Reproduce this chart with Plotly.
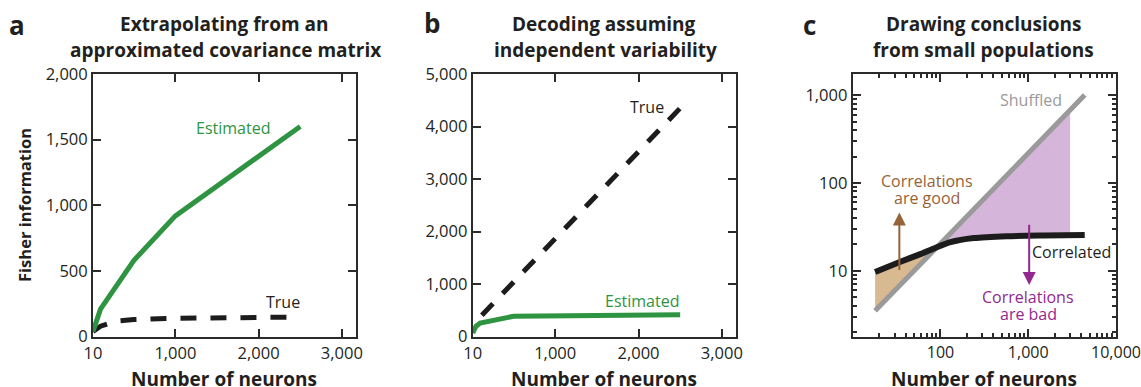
import numpy as np
import plotly.graph_objects as go

W, H = 1141, 387

# ---------------- data ----------------
# Panel a: Extrapolating from an approximated covariance matrix
a_est_n = [10, 100, 500, 1000, 2500]
a_est_fi = [40, 210, 580, 920, 1600]
a_true_n = [10, 100, 300, 500, 1000, 2500]
a_true_fi = [40, 80, 120, 130, 140, 150]

# Panel b: Decoding assuming independent variability
b_true_n = [120, 2500]
b_true_fi = [410, 4350]
b_est_n = [10, 50, 100, 500, 2500]
b_est_fi = [70, 200, 260, 390, 420]

# Panel c: Drawing conclusions from small populations (log-log)
c_shuf_n = [18, 4400]
c_shuf_fi = [3.5, 1000]
c_corr_n = [18, 35, 60, 88, 130, 240, 570, 1500, 4400]
c_corr_fi = [9.7, 12.7, 15.6, 18.3, 21.2, 23.6, 24.8, 25.2, 25.5]
c_fill_end = 3000

lin_tickvals = [10, 1000, 2000, 3000]
lin_ticktext = ["10", "1,000", "2,000", "3,000"]
c_xtickvals = [100, 1000, 10000]
c_xticktext = ["100", "1,000", "10,000"]
c_ytickvals = [10, 100, 1000]
c_yticktext = ["10", "100", "1,000"]

GREEN = "#2e9441"
BLACK = "#1c1c1c"
GRAY = "#9a9a9a"
TAN = "#d9b98f"
LILAC = "#d5b5d9"
BROWN = "#966339"
PURPLE = "#93278f"
AXC = "#2b2b2b"
FONT = "Open Sans"


def px(x):
    return x / W


def py(y):
    return 1 - y / H


fig = go.Figure()

# ---- panel c fills (built from the two series) ----
grid = np.logspace(np.log10(c_corr_n[0]), np.log10(c_fill_end), 400)
lg = np.log10(grid)
corr_i = 10 ** np.interp(lg, np.log10(c_corr_n), np.log10(c_corr_fi))
shuf_i = 10 ** np.interp(lg, np.log10(c_shuf_n), np.log10(c_shuf_fi))
good = corr_i >= shuf_i
gx = grid[good]
fig.add_trace(go.Scatter(
    x=np.concatenate([gx, gx[::-1]]),
    y=np.concatenate([corr_i[good], shuf_i[good][::-1]]),
    fill="toself", fillcolor=TAN, line=dict(width=0), mode="lines",
    xaxis="x3", yaxis="y3", hoverinfo="skip", showlegend=False))
bx = grid[~good]
fig.add_trace(go.Scatter(
    x=np.concatenate([bx, bx[::-1]]),
    y=np.concatenate([shuf_i[~good], corr_i[~good][::-1]]),
    fill="toself", fillcolor=LILAC, line=dict(width=0), mode="lines",
    xaxis="x3", yaxis="y3", hoverinfo="skip", showlegend=False))

# ---- lines ----
dash = "16px,14px"
fig.add_trace(go.Scatter(x=a_true_n, y=a_true_fi, mode="lines",
                         line=dict(color=BLACK, width=5, dash=dash),
                         xaxis="x", yaxis="y", showlegend=False))
fig.add_trace(go.Scatter(x=a_est_n, y=a_est_fi, mode="lines",
                         line=dict(color=GREEN, width=5),
                         xaxis="x", yaxis="y", showlegend=False))
fig.add_trace(go.Scatter(x=b_true_n, y=b_true_fi, mode="lines",
                         line=dict(color=BLACK, width=5, dash=dash),
                         xaxis="x2", yaxis="y2", showlegend=False))
fig.add_trace(go.Scatter(x=b_est_n, y=b_est_fi, mode="lines",
                         line=dict(color=GREEN, width=5),
                         xaxis="x2", yaxis="y2", showlegend=False))
fig.add_trace(go.Scatter(x=c_shuf_n, y=c_shuf_fi, mode="lines",
                         line=dict(color=GRAY, width=5),
                         xaxis="x3", yaxis="y3", showlegend=False))
fig.add_trace(go.Scatter(x=c_corr_n, y=c_corr_fi, mode="lines",
                         line=dict(color=BLACK, width=6, shape="spline", smoothing=0.6),
                         xaxis="x3", yaxis="y3", showlegend=False))

ax_common = dict(showline=True, linecolor=AXC, linewidth=2, mirror="ticks",
                 ticks="inside", ticklen=8, tickwidth=2, tickcolor=AXC,
                 showgrid=False, zeroline=False, automargin=False)
tf = dict(family=FONT, size=16.5, color="#231f20")
tf_small = dict(family=FONT, size=16, color="#231f20")

ydom = [py(336.7), py(74)]
minor_x = [m * 10 ** e for e in range(1, 4) for m in range(2, 10)]
minor_y = [m * 10 ** e for e in range(0, 4) for m in range(2, 10)]
minor_style = dict(ticks="inside", ticklen=4, tickwidth=1.5, tickcolor=AXC, showgrid=False)

fig.update_layout(
    width=W, height=H, margin=dict(l=0, r=0, t=0, b=0, autoexpand=False),
    paper_bgcolor="white", plot_bgcolor="white",
    xaxis=dict(domain=[px(93), px(356)], range=[10, 3170], anchor="y",
               tickvals=lin_tickvals, ticktext=lin_ticktext, tickfont=tf, **ax_common),
    yaxis=dict(domain=ydom, range=[0, 2000], anchor="x",
               tickvals=[0, 500, 1000, 1500, 2000],
               ticktext=["0", "500", "1,000", "1,500", "2,000"], tickfont=tf, **ax_common),
    xaxis2=dict(domain=[px(472.7), px(736)], range=[10, 3170], anchor="y2",
                tickvals=lin_tickvals, ticktext=lin_ticktext, tickfont=tf, **ax_common),
    yaxis2=dict(domain=ydom, range=[0, 5000], anchor="x2",
                tickvals=[0, 1000, 2000, 3000, 4000, 5000],
                ticktext=["0", "1,000", "2,000", "3,000", "4,000", "5,000"], tickfont=tf,
                **ax_common),
    xaxis3=dict(domain=[px(852.7), px(1116)], type="log", range=[1.0, 4.0], anchor="y3",
                tickvals=c_xtickvals, ticktext=c_xticktext, tickfont=tf_small,
                minor=dict(tickvals=minor_x, **minor_style), **ax_common),
    yaxis3=dict(domain=ydom, type="log", range=[0.25, 3.24], anchor="x3",
                tickvals=c_ytickvals, ticktext=c_yticktext, tickfont=tf,
                minor=dict(tickvals=minor_y, **minor_style), **ax_common),
)

ann = []


def text(x, y, s, size=16, color="#231f20", bold=False, xanchor="center", angle=0):
    ann.append(dict(x=px(x), y=py(y), xref="paper", yref="paper",
                    text=f"<b>{s}</b>" if bold else s, showarrow=False,
                    xanchor=xanchor, yanchor="middle", textangle=angle,
                    font=dict(family=FONT, size=size, color=color)))


# panel letters
text(17, 25, "a", size=26, bold=True)
text(432, 23, "b", size=26, bold=True)
text(809, 25, "c", size=26, bold=True)
# titles
text(224, 24, "Extrapolating from an", size=19, bold=True)
text(225, 50, "approximated covariance matrix", size=19, bold=True)
text(604, 24, "Decoding assuming", size=19, bold=True)
text(605, 50, "independent variability", size=19, bold=True)
text(983, 24, "Drawing conclusions", size=19, bold=True)
text(983, 50, "from small populations", size=19, bold=True)
# axis titles
text(224, 379, "Number of neurons", size=19, bold=True)
text(604, 379, "Number of neurons", size=19, bold=True)
text(984, 379, "Number of neurons", size=19, bold=True)
text(24, 205, "Fisher information", size=16.5, bold=True, angle=-90)
# series labels
text(233, 128, "Estimated", size=16, color=GREEN)
text(283, 302, "True", size=16)
text(647, 107, "True", size=16)
text(642, 301, "Estimated", size=16, color=GREEN)
text(1064, 100, "Shuffled", size=16, color=GRAY, xanchor="right")
text(1113, 252, "Correlated", size=16, xanchor="right")
text(927, 181, "Correlations", size=16, color=BROWN)
text(927, 198, "are good", size=16, color=BROWN)
text(1028, 297, "Correlations", size=16, color=PURPLE)
text(1028, 314, "are bad", size=16, color=PURPLE)

# arrows in panel c
ann.append(dict(x=np.log10(34), y=np.log10(46), ax=np.log10(34), ay=np.log10(9.8),
                xref="x3", yref="y3", axref="x3", ayref="y3", text="",
                showarrow=True, arrowhead=2, arrowsize=1.3, arrowwidth=2, arrowcolor=BROWN))
ann.append(dict(x=np.log10(1025), y=np.log10(6.9), ax=np.log10(1025), ay=np.log10(34.7),
                xref="x3", yref="y3", axref="x3", ayref="y3", text="",
                showarrow=True, arrowhead=2, arrowsize=1.3, arrowwidth=2, arrowcolor=PURPLE))

fig.update_layout(annotations=ann)
fig.write_html("out.html", config={"displayModeBar": False},
               post_script="document.body.style.margin='0';document.body.style.overflow='hidden';")
